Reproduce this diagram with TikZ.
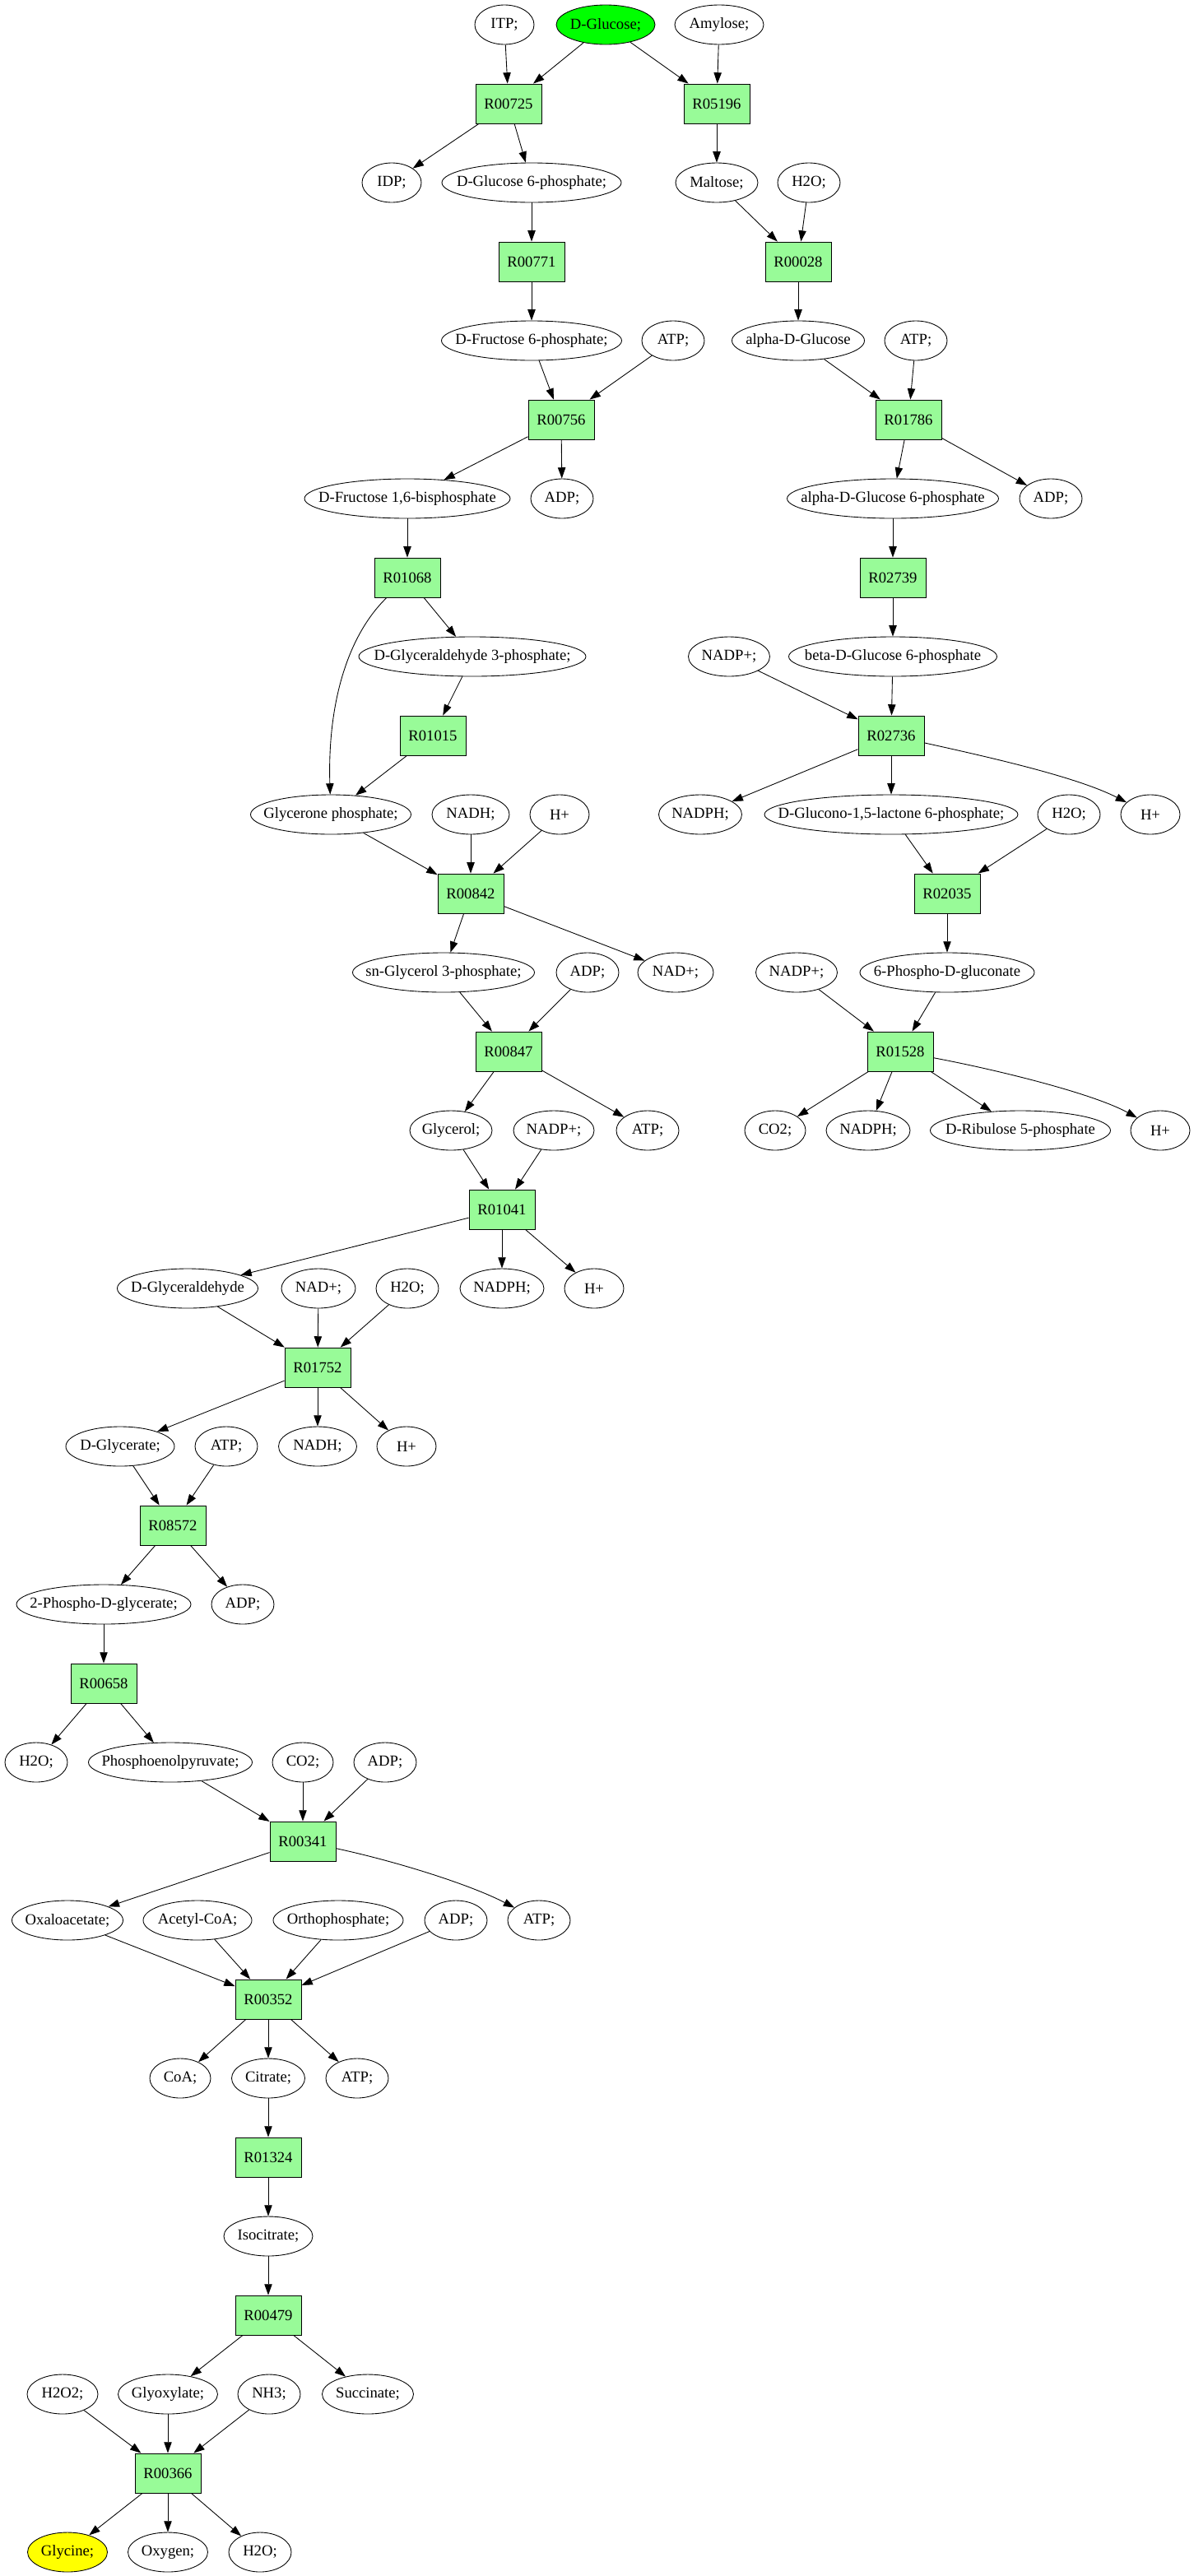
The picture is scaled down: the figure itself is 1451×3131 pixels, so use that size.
\documentclass[tikz,border=0pt]{standalone}
\usepackage{fontspec}
\setmainfont{Liberation Serif}
\usetikzlibrary{arrows.meta,shapes.geometric}
\definecolor{rxngreen}{HTML}{98FB98}
\definecolor{srcgreen}{HTML}{00FF00}
\definecolor{dstyellow}{HTML}{FFFF00}

\begin{document}
\begin{tikzpicture}[x=0.75pt, y=-0.75pt,
  font=\fontsize{14}{17}\selectfont, line width=0.65pt,
  >={Triangle[length=10pt,width=7pt]},
  rxn/.style={draw, fill=rxngreen, minimum width=60pt, minimum height=36pt, inner sep=0pt},
  met/.style={ellipse, draw, minimum width=0.75*#1, minimum height=36pt,
    inner xsep=-150pt, inner ysep=0pt},
  met/.default=72]
  \useasboundingbox (0,0) rectangle (1451,3131);

  % glycolysis side
  \node[met=120, fill=srcgreen](glc) at (736,30){D-Glucose;};
  \node[met](itp) at (613,30){ITP;};
  \node[met=108](amylose) at (874,30){Amylose;};
  \node[rxn](r00725) at (618,126){R00725};
  \node[rxn](r05196) at (871,126){R05196};
  \node[met](idp) at (476,222){IDP;};
  \node[met=218](g6p) at (646,222){D-Glucose 6-phosphate;};
  \node[met=100](maltose) at (871,222){Maltose;};
  \node[met=76](h2oa) at (983,222){H2O;};
  \node[rxn](r00771) at (646,318){R00771};
  \node[rxn](r00028) at (970,318){R00028};
  \node[met=219](f6p) at (646,414){D-Fructose 6-phosphate;};
  \node[met=76](atpa) at (818,414){ATP;};
  \node[met=161](aglc) at (970,414){alpha-D-Glucose};
  \node[met=76](atpb) at (1113,414){ATP;};
  \node[rxn](r00756) at (682,510){R00756};
  \node[rxn](r01786) at (1104,510){R01786};
  \node[met=250](fbp) at (495,606){D-Fructose 1,6-bisphosphate};
  \node[met=76](adpa) at (683,606){ADP;};
  \node[met=257](ag6p) at (1085,606){alpha-D-Glucose 6-phosphate};
  \node[met=76](adpb) at (1277,606){ADP;};
  \node[rxn](r01068) at (495,702){R01068};
  \node[rxn](r02739) at (1085,702){R02739};
  \node[met=276](gap) at (574,798){D-Glyceraldehyde 3-phosphate;};
  \node[met=99](nadpa) at (886,798){NADP+;};
  \node[met=253](bg6p) at (1085,798){beta-D-Glucose 6-phosphate};
  \node[rxn](r01015) at (526,894){R01015};
  \node[rxn](r02736) at (1083,894){R02736};
  \node[met=195](dhap) at (402,990){Glycerone phosphate;};
  \node[met=94](nadha) at (572,990){NADH;};
  \node[met](hpa) at (680,990){H+};
  \node[met=101](nadpha) at (851,990){NADPH;};
  \node[met=308](glcl) at (1083,990){D-Glucono-1,5-lactone 6-phosphate;};
  \node[met=76](h2ob) at (1299,990){H2O;};
  \node[met](hpb) at (1398,990){H+};
  \node[rxn](r00842) at (572,1086){R00842};
  \node[rxn](r02035) at (1151,1086){R02035};
  \node[met=221](g3p) at (539,1182){sn-Glycerol 3-phosphate;};
  \node[met=76](adpc) at (714,1182){ADP;};
  \node[met=92](nada) at (821,1182){NAD+;};
  \node[met=99](nadpb) at (968,1182){NADP+;};
  \node[met=212](pgl) at (1151,1182){6-Phospho-D-gluconate};
  \node[rxn](r00847) at (618,1278){R00847};
  \node[rxn](r01528) at (1094,1278){R01528};
  \node[met=100](glycerol) at (548,1374){Glycerol;};
  \node[met=98](nadpc) at (673,1374){NADP+;};
  \node[met=76](atpc) at (787,1374){ATP;};
  \node[met=74](co2a) at (942,1374){CO2;};
  \node[met=102](nadphb) at (1055,1374){NADPH;};
  \node[met=219](ru5p) at (1240,1374){D-Ribulose 5-phosphate};
  \node[met](hpc) at (1410,1374){H+};
  \node[rxn](r01041) at (610,1470){R01041};
  \node[met=171](glyald) at (228,1566){D-Glyceraldehyde};
  \node[met=90](nadb) at (387,1566){NAD+;};
  \node[met=76](h2oc) at (495,1566){H2O;};
  \node[met=102](nadphc) at (610,1566){NADPH;};
  \node[met](hpd) at (722,1566){H+};
  \node[rxn](r01752) at (386,1662){R01752};
  \node[met=132](glyc) at (146,1758){D-Glycerate;};
  \node[met=76](atpd) at (275,1758){ATP;};
  \node[met=95](nadhb) at (386,1758){NADH;};
  \node[met](hpe) at (494,1758){H+};
  \node[rxn](r08572) at (210,1854){R08572};
  \node[met=212](pg2) at (126,1950){2-Phospho-D-glycerate;};
  \node[met=76](adpd) at (295,1950){ADP;};
  \node[rxn](r00658) at (126,2046){R00658};
  \node[met=76](h2od) at (44,2142){H2O;};
  \node[met=199](pep) at (207,2142){Phosphoenolpyruvate;};
  \node[met=74](co2b) at (368,2142){CO2;};
  \node[met=76](adpe) at (468,2142){ADP;};
  \node[rxn](r00341) at (368,2238){R00341};
  \node[met=135](oaa) at (82,2334){Oxaloacetate;};
  \node[met=132](accoa) at (240,2334){Acetyl-CoA;};
  \node[met=158](pi) at (411,2334){Orthophosphate;};
  \node[met=76](adpf) at (554,2334){ADP;};
  \node[met=76](atpe) at (655,2334){ATP;};
  \node[rxn](r00352) at (326,2430){R00352};
  \node[met=74](coa) at (219,2526){CoA;};
  \node[met=89](cit) at (326,2526){Citrate;};
  \node[met=76](atpf) at (434,2526){ATP;};
  \node[rxn](r01324) at (326,2622){R01324};
  \node[met=108](icit) at (326,2718){Isocitrate;};
  \node[rxn](r00479) at (326,2814){R00479};
  \node[met=86](h2o2) at (76,2910){H2O2;};
  \node[met=121](glx) at (204,2910){Glyoxylate;};
  \node[met=76](nh3) at (327,2910){NH3;};
  \node[met=111](succ) at (447,2910){Succinate;};
  \node[rxn](r00366) at (204,3006){R00366};
  \node[met=97, fill=dstyellow](gly) at (82,3102){Glycine;};
  \node[met=97](oxy) at (204,3102){Oxygen;};
  \node[met=76](h2oe) at (316,3102){H2O;};

  % reactions
  \draw[->] (itp) edge (r00725) (glc) edge (r00725) (r00725) edge (idp) edge (g6p);
  \draw[->] (glc) edge (r05196) (amylose) edge (r05196) (r05196) edge (maltose);
  \draw[->] (g6p) edge (r00771) (r00771) edge (f6p);
  \draw[->] (maltose) edge (r00028) (h2oa) edge (r00028) (r00028) edge (aglc);
  \draw[->] (f6p) edge (r00756) (atpa) edge (r00756) (r00756) edge (fbp) edge (adpa);
  \draw[->] (aglc) edge (r01786) (atpb) edge (r01786) (r01786) edge (ag6p) edge (adpb);
  \draw[->] (fbp) edge (r01068) (r01068) edge (gap);
  \draw[->] (r01068) .. controls (420,775) and (398,860) .. (dhap);
  \draw[->] (ag6p) edge (r02739) (r02739) edge (bg6p);
  \draw[->] (gap) edge (r01015) (r01015) edge (dhap);
  \draw[->] (nadpa) edge (r02736) (bg6p) edge (r02736) (r02736) edge (nadpha) edge (glcl);
  \draw[->] (r02736) .. controls (1210,922) and (1310,945) .. (hpb);
  \draw[->] (dhap) edge (r00842) (nadha) edge (r00842) (hpa) edge (r00842)
    (r00842) edge (g3p) edge (nada);
  \draw[->] (glcl) edge (r02035) (h2ob) edge (r02035) (r02035) edge (pgl);
  \draw[->] (g3p) edge (r00847) (adpc) edge (r00847) (r00847) edge (glycerol) edge (atpc);
  \draw[->] (nadpb) edge (r01528) (pgl) edge (r01528)
    (r01528) edge (co2a) edge (nadphb) edge (ru5p);
  \draw[->] (r01528) .. controls (1220,1302) and (1330,1330) .. (hpc);
  \draw[->] (glycerol) edge (r01041) (nadpc) edge (r01041)
    (r01041) edge (glyald) edge (nadphc) edge (hpd);
  \draw[->] (glyald) edge (r01752) (nadb) edge (r01752) (h2oc) edge (r01752)
    (r01752) edge (glyc) edge (nadhb) edge (hpe);
  \draw[->] (glyc) edge (r08572) (atpd) edge (r08572) (r08572) edge (pg2) edge (adpd);
  \draw[->] (pg2) edge (r00658) (r00658) edge (h2od) edge (pep);
  \draw[->] (pep) edge (r00341) (co2b) edge (r00341) (adpe) edge (r00341) (r00341) edge (oaa);
  \draw[->] (r00341) .. controls (480,2262) and (570,2290) .. (atpe);
  \draw[->] (oaa) edge (r00352) (accoa) edge (r00352) (pi) edge (r00352) (adpf) edge (r00352)
    (r00352) edge (coa) edge (cit) edge (atpf);
  \draw[->] (cit) edge (r01324) (r01324) edge (icit);
  \draw[->] (icit) edge (r00479) (r00479) edge (glx) edge (succ);
  \draw[->] (h2o2) edge (r00366) (glx) edge (r00366) (nh3) edge (r00366)
    (r00366) edge (gly) edge (oxy) edge (h2oe);
\end{tikzpicture}
\end{document}
